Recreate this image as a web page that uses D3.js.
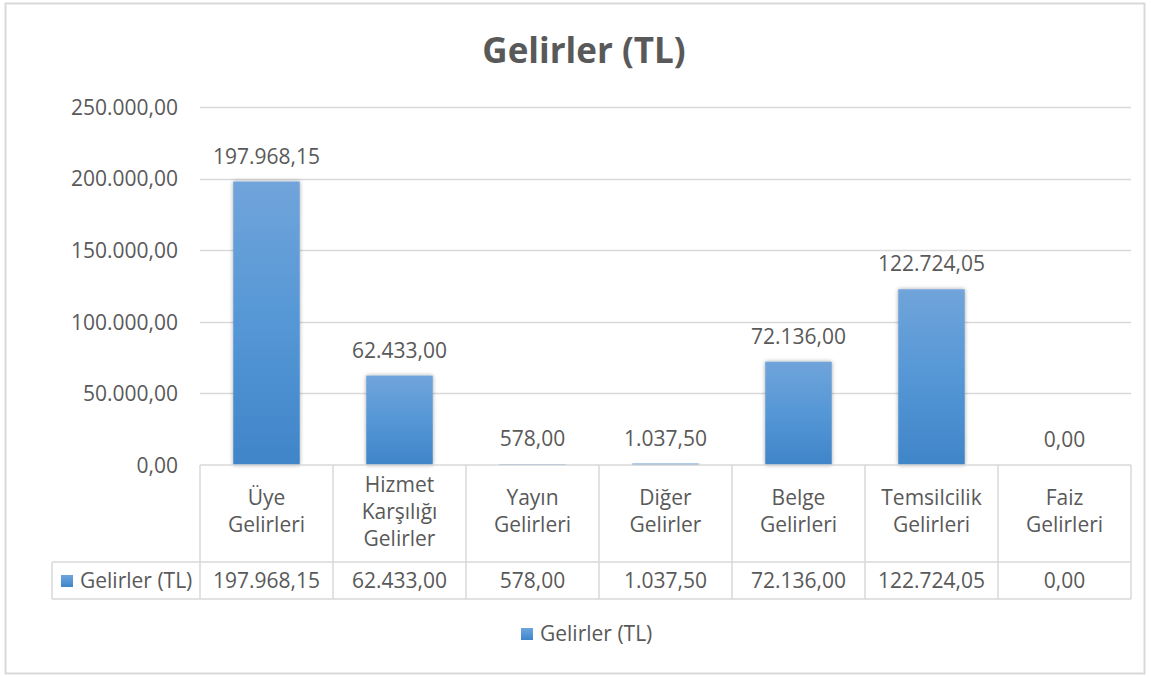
<!DOCTYPE html>
<html>
<head>
<meta charset="utf-8">
<script src="https://cdn.jsdelivr.net/npm/d3@7/dist/d3.min.js"></script>
<style>
  html, body { margin: 0; padding: 0; background: #fff; }
  svg { display: block; }
  text { font-family: "Open Sans", "Liberation Sans", sans-serif; fill: #595959; }
</style>
</head>
<body>
<svg id="chart" width="1151" height="678"></svg>
<script>
const title = "Gelirler (TL)";
const seriesName = "Gelirler (TL)";
const categories = [
  ["Üye", "Gelirleri"],
  ["Hizmet", "Karşılığı", "Gelirler"],
  ["Yayın", "Gelirleri"],
  ["Diğer", "Gelirler"],
  ["Belge", "Gelirleri"],
  ["Temsilcilik", "Gelirleri"],
  ["Faiz", "Gelirleri"]
];
const values = [197968.15, 62433.00, 578.00, 1037.50, 72136.00, 122724.05, 0.00];
const yTicks = [0, 50000, 100000, 150000, 200000, 250000];

const W = 1151, H = 678;
const svg = d3.select("#chart");
const fmt = v => {
  const parts = v.toFixed(2).split(".");
  parts[0] = parts[0].replace(/\B(?=(\d{3})+(?!\d))/g, ".");
  return parts[0] + "," + parts[1];
};

const plot = { left: 200, right: 1131, top: 107, bottom: 465 };
const gridColor = "#d9d9d9";
const fs = "21px";

// defs
const defs = svg.append("defs");
const grad = defs.append("linearGradient").attr("id", "barGrad")
  .attr("x1", 0).attr("y1", 0).attr("x2", 0).attr("y2", 1);
grad.append("stop").attr("offset", "0%").attr("stop-color", "#70a4da");
grad.append("stop").attr("offset", "50%").attr("stop-color", "#5597d6");
grad.append("stop").attr("offset", "100%").attr("stop-color", "#3f85c8");
const f = defs.append("filter").attr("id", "shadow")
  .attr("x", "-30%").attr("y", "-10%").attr("width", "160%").attr("height", "120%");
f.append("feDropShadow").attr("dx", 0).attr("dy", 0).attr("stdDeviation", 2.2)
  .attr("flood-color", "#000").attr("flood-opacity", 0.35);

// outer border
svg.append("rect").attr("x", 5.5).attr("y", 3.5).attr("width", 1139).attr("height", 670)
  .attr("fill", "#fff").attr("stroke", gridColor).attr("stroke-width", 2);

// title
svg.append("text").attr("x", 584).attr("y", 63).attr("text-anchor", "middle")
  .style("font-size", "35px").style("font-weight", "bold").text(title);

const x = d3.scaleBand().domain(d3.range(categories.length))
  .range([plot.left, plot.right]);
const y = d3.scaleLinear().domain([0, 250000]).range([plot.bottom, plot.top]);

// gridlines
svg.append("g").selectAll("line").data(yTicks.filter(d => d > 0)).join("line")
  .attr("x1", plot.left).attr("x2", plot.right)
  .attr("y1", d => Math.round(y(d)) + 0.5).attr("y2", d => Math.round(y(d)) + 0.5)
  .attr("stroke", gridColor).attr("stroke-width", 1.5);

// y axis labels
const yAxis = d3.axisLeft(y).tickValues(yTicks).tickFormat(fmt).tickSize(0).tickPadding(0);
const yg = svg.append("g").attr("transform", `translate(178,0)`).call(yAxis);
yg.select(".domain").remove();
yg.selectAll("text").style("font-size", fs).style("font-family", "\"Open Sans\", sans-serif")
  .attr("fill", "#595959").attr("dy", "0.35em");

// bars
const bw = x.bandwidth();
svg.append("g").selectAll("rect").data(values).join("rect")
  .attr("x", (d, i) => x(i) + bw * 0.25)
  .attr("width", bw * 0.5)
  .attr("y", d => y(d))
  .attr("height", d => Math.max(0, y(0) - y(d)))
  .attr("fill", "url(#barGrad)")
  .attr("filter", "url(#shadow)");

// data labels
svg.append("g").selectAll("text").data(values).join("text")
  .attr("x", (d, i) => x(i) + bw / 2)
  .attr("y", d => y(d) - 18)
  .attr("text-anchor", "middle")
  .style("font-size", fs)
  .text(fmt);

// table
const tbl = svg.append("g");
const rowTop = plot.bottom, rowMid = 562, rowBot = 599, tblLeft = 52;
const line = (x1, y1, x2, y2) => tbl.append("line")
  .attr("x1", x1).attr("y1", y1).attr("x2", x2).attr("y2", y2)
  .attr("stroke", gridColor).attr("stroke-width", 1.5);
line(plot.left, rowTop, plot.right, rowTop);
line(tblLeft, rowMid, plot.right, rowMid);
line(tblLeft, rowBot, plot.right, rowBot);
line(tblLeft, rowMid, tblLeft, rowBot);
for (let i = 0; i <= categories.length; i++) {
  const xx = i < categories.length ? x(i) : plot.right;
  line(xx, rowTop, xx, rowBot);
}
// category labels
const lh = 27;
categories.forEach((lines, i) => {
  const cx = x(i) + bw / 2;
  const cy = (rowTop + rowMid) / 2 - 2;
  const t = tbl.append("text").attr("text-anchor", "middle").style("font-size", fs);
  lines.forEach((s, k) => {
    t.append("tspan").attr("x", cx)
      .attr("y", cy + (k - (lines.length - 1) / 2) * lh)
      .attr("dy", "0.35em").text(s);
  });
});
// values row
tbl.selectAll("text.val").data(values).join("text").attr("class", "val")
  .attr("x", (d, i) => x(i) + bw / 2).attr("y", (rowMid + rowBot) / 2)
  .attr("dy", "0.35em").attr("text-anchor", "middle")
  .style("font-size", fs).text(fmt);
// series key in table
tbl.append("rect").attr("x", 61).attr("y", 575).attr("width", 12).attr("height", 12)
  .attr("fill", "url(#barGrad)");
tbl.append("text").attr("x", 80).attr("y", (rowMid + rowBot) / 2).attr("dy", "0.35em")
  .style("font-size", fs).text(seriesName);

// legend
const lg = svg.append("g");
lg.append("rect").attr("x", 521).attr("y", 628).attr("width", 12).attr("height", 12)
  .attr("fill", "url(#barGrad)");
lg.append("text").attr("x", 540).attr("y", 634).attr("dy", "0.35em")
  .style("font-size", fs).text(seriesName);
</script>
</body>
</html>
